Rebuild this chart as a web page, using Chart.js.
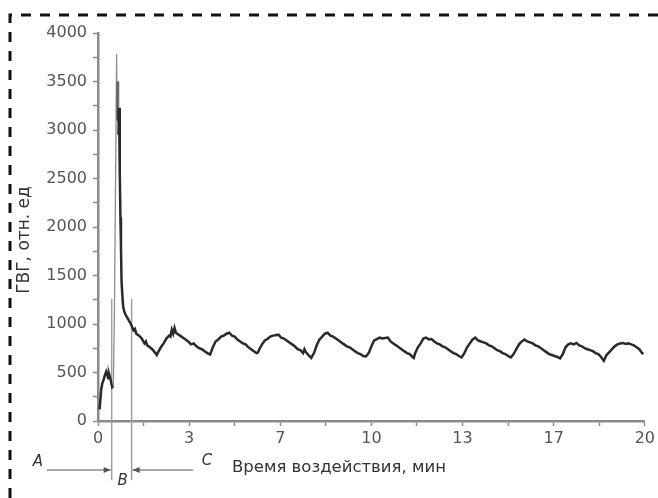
<!DOCTYPE html>
<html lang="ru">
<head>
  <meta charset="UTF-8" />
  <title>ГВГ</title>
  <script src="https://cdn.jsdelivr.net/npm/chart.js"></script>
  <style>
    body {
      margin: 0;
      background: #fff;
    }
  </style>
</head>
<body>
  <canvas id="gvgChart" width="658" height="498"></canvas>

  <script>
    // time, min
    const times = [
      0.06, 0.09, 0.12, 0.16, 0.2, 0.25, 0.3, 0.34, 0.37, 0.4, 0.44, 0.48, 0.52, 0.56,
      0.6, 0.64, 0.68, 0.7, 0.73, 0.75, 0.77, 0.79, 0.8, 0.82, 0.84, 0.86, 0.89, 0.92, 0.96,
      1.0, 1.1, 1.2, 1.3, 1.35, 1.4, 1.5, 1.6, 1.7, 1.75, 1.8, 1.9, 2.0, 2.1, 2.15, 2.2,
      2.3, 2.4, 2.5, 2.6, 2.65, 2.7, 2.75, 2.8, 2.85, 2.9, 3.0, 3.1, 3.2, 3.3, 3.4, 3.5,
      3.6, 3.7, 3.8, 3.9, 4.0, 4.1, 4.2, 4.3, 4.4, 4.5, 4.6, 4.7, 4.8, 4.9, 5.0, 5.1,
      5.2, 5.3, 5.4, 5.5, 5.6, 5.7, 5.8, 5.85, 5.9, 6.0, 6.1, 6.2, 6.3, 6.4, 6.5, 6.6,
      6.7, 6.8, 6.9, 7.0, 7.1, 7.2, 7.3, 7.4, 7.5, 7.55, 7.6, 7.7, 7.8, 7.9, 8.0, 8.1,
      8.2, 8.3, 8.4, 8.5, 8.6, 8.7, 8.8, 8.9, 9.0, 9.1, 9.2, 9.3, 9.4, 9.5, 9.6, 9.7,
      9.8, 9.9, 10.0, 10.1, 10.2, 10.3, 10.4, 10.5, 10.6, 10.7, 10.8, 10.9, 11.0, 11.1,
      11.2, 11.3, 11.4, 11.5, 11.55, 11.6, 11.7, 11.8, 11.9, 12.0, 12.1, 12.2, 12.3, 12.4,
      12.5, 12.6, 12.7, 12.8, 12.9, 13.0, 13.1, 13.2, 13.3, 13.4, 13.5, 13.6, 13.7, 13.8,
      13.9, 14.0, 14.1, 14.2, 14.3, 14.4, 14.5, 14.6, 14.7, 14.8, 14.9, 15.0, 15.1, 15.2,
      15.3, 15.4, 15.5, 15.6, 15.7, 15.8, 15.9, 16.0, 16.1, 16.2, 16.3, 16.4, 16.5, 16.6,
      16.7, 16.8, 16.9, 17.0, 17.1, 17.2, 17.3, 17.4, 17.5, 17.6, 17.7, 17.8, 17.9, 18.0,
      18.1, 18.2, 18.3, 18.4, 18.5, 18.6, 18.7, 18.8, 18.9, 19.0, 19.1, 19.2, 19.3, 19.4,
      19.5, 19.6, 19.7, 19.8, 19.9, 19.95
    ];

    // ГВГ, отн. ед
    const gvg = [
      120, 230, 330, 390, 420, 470, 510, 480, 440, 490, 450, 400, 350, 360,
      1100, 2400, 3780, 3100, 3500, 2950, 3230, 3000, 2600, 2100, 1800, 1450, 1300, 1180, 1130,
      1100, 1050, 1000, 935, 950, 900, 880, 850, 800, 820, 780, 760, 735, 700, 680, 710,
      760, 800, 850, 880, 870, 940, 900, 960, 910, 900, 880, 860, 840, 820, 790, 800,
      770, 750, 740, 720, 700, 685, 760, 820, 840, 870, 880, 900, 910, 880, 870, 840,
      820, 800, 790, 760, 740, 720, 700, 705, 740, 790, 830, 845, 870, 880, 885, 890,
      860, 850, 830, 810, 790, 770, 740, 730, 700, 740, 710, 680, 650, 700, 780, 840,
      870, 900, 910, 880, 870, 850, 830, 810, 790, 770, 760, 740, 720, 700, 690, 670,
      665, 700, 770, 830, 845, 860, 850, 855, 860, 820, 800, 780, 760, 740,
      720, 700, 690, 660, 650, 700, 760, 800, 850, 860, 840, 845, 820, 800,
      790, 770, 760, 740, 720, 700, 690, 670, 655, 700, 760, 800, 840, 860,
      830, 820, 810, 800, 780, 770, 750, 730, 720, 700, 690, 670, 655, 690,
      740, 790, 820, 840, 820, 810, 800, 780, 770, 750, 730, 710, 690, 680,
      670, 660, 645, 690, 760, 790, 800, 790, 805, 780, 770, 750, 740, 730,
      720, 700, 690, 660, 620, 680, 710, 740, 770, 790, 800, 805, 795, 800,
      790, 780, 760, 740, 700, 690
    ];

    // stage boundaries (min) and the vertical extent of their marker lines
    const stageBounds = [0.5, 1.23];
    const boundTop = 1260;
    const boundBottom = -610;

    const xTicks = [0, 5 / 3, 10 / 3, 5, 20 / 3, 25 / 3, 10, 35 / 3, 40 / 3, 15, 50 / 3, 55 / 3, 20];

    const series = times.map((t, i) => ({ x: t, y: gvg[i] }));

    const boundSets = stageBounds.map(b => ({
      data: [{ x: b, y: boundTop }, { x: b, y: boundBottom }],
      borderColor: '#a0a0a0',
      borderWidth: 1.5,
      pointRadius: 0,
      clip: false
    }));

    // steep jumps of the recorder trace come out thin and pale
    const steep = c => Math.abs(c.p1.parsed.y - c.p0.parsed.y) > 500;

    function arrowHead(ctx, x, y, dir) {
      ctx.beginPath();
      ctx.moveTo(x, y);
      ctx.lineTo(x - dir * 7, y - 3);
      ctx.lineTo(x - dir * 7, y + 3);
      ctx.closePath();
      ctx.fill();
    }

    // frame, axis titles and stage labels
    const decorations = {
      id: 'decorations',
      afterDraw(chart) {
        const ctx = chart.ctx;
        const xs = chart.scales.x;
        ctx.save();

        ctx.strokeStyle = '#111';
        ctx.lineWidth = 3;
        ctx.setLineDash([10, 9]);
        ctx.beginPath();
        ctx.moveTo(10, 498);
        ctx.lineTo(10, 15);
        ctx.lineTo(658, 15);
        ctx.stroke();
        ctx.setLineDash([]);

        ctx.fillStyle = '#333';
        ctx.font = '17px "DejaVu Sans"';
        ctx.textBaseline = 'middle';

        ctx.save();
        ctx.translate(25, 240);
        ctx.rotate(-Math.PI / 2);
        ctx.textAlign = 'center';
        ctx.fillText('ГВГ, отн. ед', 0, 0);
        ctx.restore();

        ctx.font = '16.5px "DejaVu Sans"';
        ctx.textAlign = 'left';
        ctx.fillText('Время воздействия, мин', 232, 468);

        const xa = xs.getPixelForValue(stageBounds[0]);
        const xb = xs.getPixelForValue(stageBounds[1]);

        ctx.font = 'italic 15px "DejaVu Sans"';
        ctx.textAlign = 'center';
        ctx.fillText('A', 38, 462);
        ctx.fillText('B', (xa + xb) / 2 + 1, 481);
        ctx.fillText('C', 207, 461);

        ctx.strokeStyle = '#555';
        ctx.fillStyle = '#555';
        ctx.lineWidth = 1.2;
        ctx.beginPath();
        ctx.moveTo(47, 470);
        ctx.lineTo(xa - 1, 470);
        ctx.moveTo(xb + 1, 470);
        ctx.lineTo(193, 470);
        ctx.stroke();
        arrowHead(ctx, xa - 1, 470, 1);
        arrowHead(ctx, xb + 1, 470, -1);

        ctx.restore();
      }
    };

    const axisColor = '#8a8a8a';
    const tickFont = { family: 'DejaVu Sans', size: 16 };

    new Chart(document.getElementById('gvgChart'), {
      type: 'line',
      data: {
        datasets: [{
          data: series,
          borderColor: '#2a2a2a',
          borderWidth: 2.5,
          pointRadius: 0,
          tension: 0,
          segment: {
            borderColor: c => (steep(c) ? '#8c8c8c' : undefined),
            borderWidth: c => (steep(c) ? 1.3 : undefined)
          }
        }, ...boundSets]
      },
      options: {
        responsive: false,
        animation: false,
        layout: { padding: { top: 33, right: 11 } },
        plugins: {
          legend: { display: false },
          tooltip: { enabled: false }
        },
        scales: {
          x: {
            type: 'linear',
            min: 0,
            max: 20,
            afterBuildTicks: s => { s.ticks = xTicks.map(v => ({ value: v })); },
            afterFit: s => { s.height = 77; },
            ticks: {
              autoSkip: false,
              maxRotation: 0,
              padding: 3,
              color: '#555',
              font: tickFont,
              callback: (v, i) => (i % 2 === 0 ? String(Math.round(v)) : '')
            },
            grid: { drawOnChartArea: false, tickLength: 5, tickColor: axisColor, tickWidth: 1.5 },
            border: { color: axisColor, width: 2.5 }
          },
          y: {
            min: 0,
            max: 4000,
            afterFit: s => { s.width = 98; },
            ticks: {
              stepSize: 250,
              autoSkip: false,
              padding: 6,
              color: '#555',
              font: tickFont,
              callback: v => (v % 500 === 0 ? v : '')
            },
            grid: { drawOnChartArea: false, tickLength: 5, tickColor: axisColor, tickWidth: 1.5 },
            border: { color: axisColor, width: 2.5 }
          }
        }
      },
      plugins: [decorations]
    });
  </script>
</body>
</html>
